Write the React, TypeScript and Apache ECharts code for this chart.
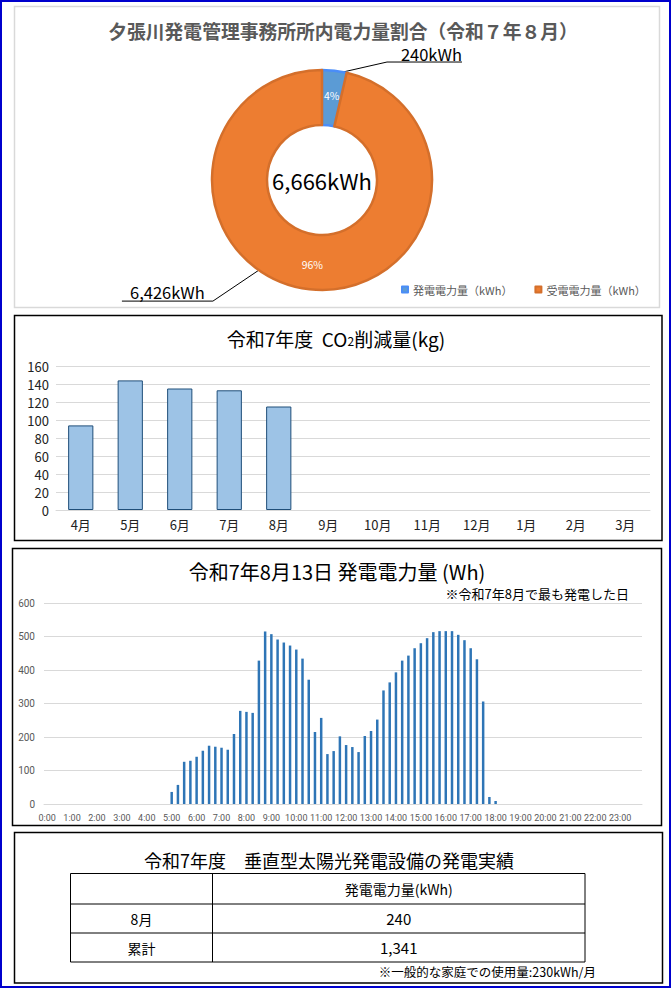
import React, { useEffect, useRef } from 'react';
import * as echarts from 'echarts';

const FONT = '"Noto Sans CJK JP", "Noto Sans", sans-serif';

// 所内電力量（令和7年8月）
const powerNames = ['発電電力量（kWh）', '受電電力量（kWh）'];
const powerValues = [240, 6426];
const powerColors = ['#5B9BD5', '#ED7D31'];
const powerBorders = ['#4A8DF8', '#D46F2B'];

// CO2削減量(kg)
const months = ['4月', '5月', '6月', '7月', '8月', '9月', '10月', '11月', '12月', '1月', '2月', '3月'];
const co2Values = [94, 144, 135, 133, 115, null, null, null, null, null, null, null];

// 令和7年8月13日 15分ごとの発電電力量(Wh)
const slots: string[] = [];
for (let h = 0; h < 24; h++) {
    for (let m = 0; m < 60; m += 15) slots.push(h + ':' + (m === 0 ? '00' : m));
}
const genWh = [
    0, 0, 0, 0, 0, 0, 0, 0, 0, 0, 0, 0, 0, 0, 0, 0, 0, 0, 0, 0,   // 0:00-4:45
    36, 57, 126, 129,       // 5時
    141, 159, 174, 171,     // 6時
    168, 162, 209, 278,     // 7時
    275, 272, 428, 515,     // 8時
    507, 491, 482, 473,     // 9時
    461, 434, 371, 215,     // 10時
    257, 149, 158, 202,     // 11時
    176, 170, 155, 203,     // 12時
    218, 252, 339, 363,     // 13時
    393, 428, 443, 465,     // 14時
    480, 495, 513, 516,     // 15時
    516, 516, 505, 489,     // 16時
    465, 432, 306, 21,      // 17時
    9, 0, 0, 0,             // 18時
    0, 0, 0, 0, 0, 0, 0, 0, 0, 0, 0, 0, 0, 0, 0, 0, 0, 0, 0, 0,   // 19:00-23:45
];

// 垂直型太陽光発電設備の発電実績
const tableHead = '発電電力量(kWh)';
const tableRows = ['8月', '累計'];
const tableValues = [240, 1341];

const PIE_CENTER = [322, 180];
const PIE_RADIUS = [55, 110];
const LEADER_ANGLES = [79, 235]; // 引出線が円から出る角度

const fmt = (v: number) => v.toLocaleString('en-US');

const txt = (text: string, x: number, y: number, size: number, extra: any = {}) => ({
    type: 'text', x, y, silent: true,
    style: {
        text, fill: '#000', fontSize: size, fontFamily: FONT, lineHeight: Math.round(size * 1.05),
        textAlign: 'center', textVerticalAlign: 'middle', ...extra,
    },
});

const frame = (x: number, y: number, w: number, h: number, stroke: string, lw: number) => ({
    type: 'rect', silent: true,
    shape: { x, y, width: w, height: h },
    style: { fill: 'none', stroke, lineWidth: lw },
});

const line = (x1: number, y1: number, x2: number, y2: number) => ({
    type: 'line', silent: true,
    shape: { x1, y1, x2, y2 },
    style: { stroke: '#000', lineWidth: 1 },
});

function tableElements() {
    const x0 = 70.5, x1 = 212.5, x2 = 585;
    const rows = [873.5, 904, 933, 962];
    const els: any[] = [frame(x0, rows[0], x2 - x0, rows[3] - rows[0], '#000', 1)];
    els.push(line(x1, rows[0], x1, rows[3]));
    els.push(line(x0, rows[1], x2, rows[1]));
    els.push(line(x0, rows[2], x2, rows[2]));
    const c1 = (x0 + x1) / 2, c2 = (x1 + x2) / 2;
    els.push(txt(tableHead, c2, (rows[0] + rows[1]) / 2, 14));
    tableRows.forEach((r, i) => {
        const cy = (rows[i + 1] + rows[i + 2]) / 2;
        els.push(txt(r, c1, cy, 14));
        els.push(txt(fmt(tableValues[i]), c2, cy, 15));
    });
    return els;
}

const App: React.FC = () => {
    const chartRef: any = useRef();

    useEffect(() => {
        const chart = echarts.init(chartRef.current, null, { renderer: 'svg' });
        const total = powerValues.reduce((a, b) => a + b, 0);

        const option: any = {
            animation: false,
            textStyle: { fontFamily: FONT },
            legend: {
                data: powerNames,
                left: 401, top: 284, padding: 0,
                icon: 'rect', itemWidth: 6, itemHeight: 6, itemGap: 22,
                textStyle: { fontSize: 11, color: '#595959', fontFamily: FONT },
                selectedMode: false,
            },
            grid: [
                { left: 56, right: 22, top: 366, bottom: 989 - 510, outerBoundsMode: 'none' },
                { left: 44, right: 30, top: 603, bottom: 989 - 804, outerBoundsMode: 'none' },
            ],
            xAxis: [
                {
                    gridIndex: 0, type: 'category', data: months,
                    axisTick: { show: false },
                    axisLine: { lineStyle: { color: '#D9D9D9' } },
                    axisLabel: { fontSize: 13, color: '#222', margin: 8 },
                },
                {
                    gridIndex: 1, type: 'category', data: slots,
                    axisTick: { show: false },
                    axisLine: { lineStyle: { color: '#D9D9D9' } },
                    axisLabel: { interval: 3, fontSize: 9, color: '#595959', margin: 9, fontFamily: 'Roboto, sans-serif' },
                },
            ],
            yAxis: [
                {
                    gridIndex: 0, type: 'value', min: 0, max: 160, interval: 20,
                    axisLabel: { fontSize: 13, color: '#222', margin: 7 },
                    splitLine: { lineStyle: { color: '#D9D9D9' } },
                },
                {
                    gridIndex: 1, type: 'value', min: 0, max: 600, interval: 100,
                    axisLabel: { fontSize: 10, color: '#595959', margin: 9, fontFamily: 'Roboto, sans-serif' },
                    splitLine: { lineStyle: { color: '#D9D9D9' } },
                },
            ],
            series: [
                {
                    type: 'pie', center: PIE_CENTER, radius: PIE_RADIUS,
                    startAngle: 90, clockwise: true, avoidLabelOverlap: false,
                    data: powerNames.map((name, i) => ({
                        name, value: powerValues[i],
                        itemStyle: { color: powerColors[i], borderColor: powerBorders[i], borderWidth: 2.5 },
                    })),
                    label: {
                        position: 'inside', color: '#fff', fontSize: 10.5,
                        formatter: (p: any) => Math.round(p.percent) + '%',
                    },
                    labelLine: { show: false },
                    emphasis: { disabled: true },
                },
                {
                    type: 'pie', center: PIE_CENTER, radius: PIE_RADIUS,
                    startAngle: 90, clockwise: true, avoidLabelOverlap: false, silent: true,
                    data: powerNames.map((name, i) => ({ name, value: powerValues[i] })),
                    itemStyle: { color: 'rgba(0,0,0,0)' },
                    label: {
                        position: 'outside', color: '#000', fontSize: 16.5, lineHeight: 16,
                        formatter: (p: any) => fmt(p.value) + 'kWh',
                    },
                    labelLine: { show: true, length: 10, length2: 10, lineStyle: { color: '#000', width: 1 } },
                    labelLayout: (p: any) => {
                        const i = p.dataIndex;
                        const a = LEADER_ANGLES[i] * Math.PI / 180;
                        const p0 = [PIE_CENTER[0] + PIE_RADIUS[1] * Math.cos(a), PIE_CENTER[1] - PIE_RADIUS[1] * Math.sin(a)];
                        if (i === 0) {
                            const p1 = [p0[0] + 44, p0[1] - 10];
                            const p2 = [p1[0] + 75, p1[1]];
                            return { x: p2[0], y: p2[1], align: 'right', verticalAlign: 'bottom', labelLinePoints: [p0, p1, p2] };
                        }
                        const p1 = [p0[0] - 46, p0[1] + 31];
                        const p2 = [p1[0] - 91, p1[1]];
                        return { x: (p1[0] + p2[0]) / 2, y: p2[1] - 1, align: 'center', verticalAlign: 'bottom', labelLinePoints: [p0, p1, p2] };
                    },
                    emphasis: { disabled: true },
                },
                {
                    type: 'bar', xAxisIndex: 0, yAxisIndex: 0, data: co2Values, barWidth: '51%',
                    itemStyle: { color: '#9DC3E6', borderColor: '#1F4E79', borderWidth: 1 },
                },
                {
                    type: 'bar', xAxisIndex: 1, yAxisIndex: 1, data: genWh, barWidth: '40%',
                    itemStyle: { color: '#2E75B6' },
                },
            ],
            graphic: {
                elements: [
                    frame(1, 1, 669, 986, '#0000CD', 2),
                    frame(14.5, 6.5, 645, 301, '#D9D9D9', 1.5),
                    frame(14.5, 315.5, 647.5, 225, '#000', 1.5),
                    frame(12.5, 548.5, 649, 277, '#000', 1.5),
                    frame(14.5, 832.5, 648, 150.5, '#000', 1.5),
                    txt('夕張川発電管理事務所所内電力量割合（令和７年８月）', 343, 30, 18.8, { fill: '#595959', fontWeight: 'bold', lineHeight: 18 }),
                    txt(fmt(total) + 'kWh', PIE_CENTER[0], PIE_CENTER[1], 22),
                    txt('令和7年度  CO{s|2}削減量(kg)', 336, 338, 19, {
                        rich: { s: { fontSize: 12, fontFamily: FONT, fill: '#000', verticalAlign: 'bottom', padding: [0, 0, 2, 0] } },
                    }),
                    txt('令和7年8月13日 発電電力量 (Wh)', 337, 571, 20),
                    txt('※令和7年8月で最も発電した日', 629, 593, 13, { textAlign: 'right' }),
                    txt('令和7年度　垂直型太陽光発電設備の発電実績', 329, 860, 18),
                    ...tableElements(),
                    txt('※一般的な家庭での使用量:230kWh/月', 596, 971, 12.5, { textAlign: 'right' }),
                ],
            },
        };
        chart.setOption(option);
        return () => {
            chart.dispose();
        };
    }, []);

    return (
        <div
            ref={chartRef}
            style={{ position: 'absolute', left: 0, top: 0, width: 672, height: 989, background: '#fff' }}
        ></div>
    );
};

export default App;
